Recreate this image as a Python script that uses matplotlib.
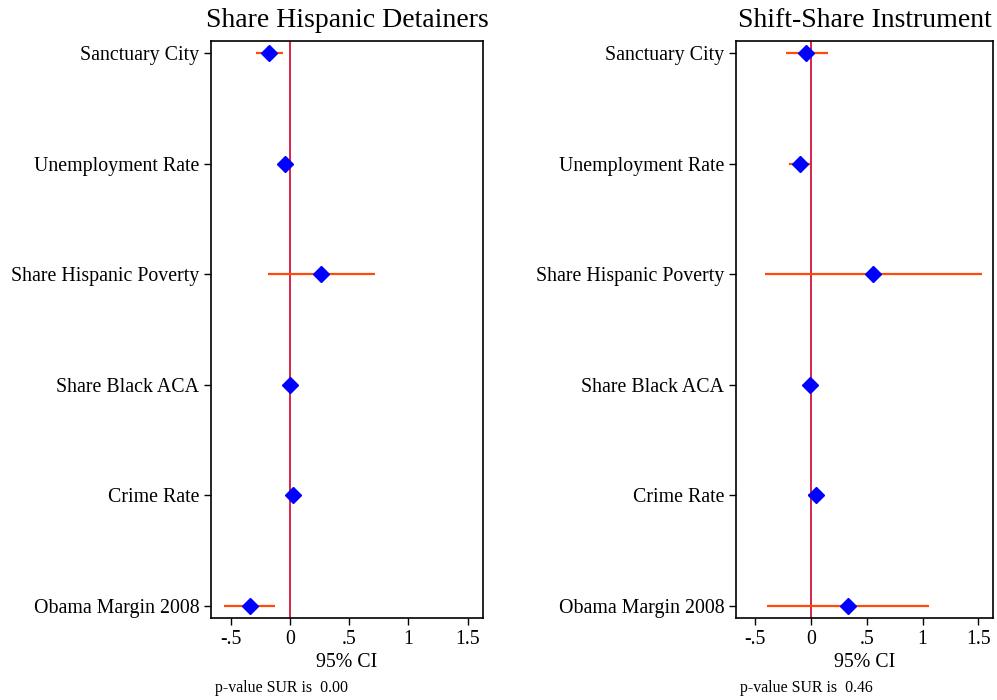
import matplotlib
matplotlib.use('Agg')
import matplotlib.pyplot as plt

plt.rcParams['font.family'] = 'Liberation Serif'

labels = ['Sanctuary City', 'Unemployment Rate', 'Share Hispanic Poverty',
          'Share Black ACA', 'Crime Rate', 'Obama Margin 2008']

# left panel: Share Hispanic Detainers
est1 = [-0.18, -0.04, 0.26, 0.00, 0.025, -0.34]
lo1 = [-0.29, -0.06, -0.19, -0.01, 0.00, -0.56]
hi1 = [-0.06, -0.02, 0.72, 0.01, 0.05, -0.13]

# right panel: Shift-Share Instrument
est2 = [-0.045, -0.10, 0.556, -0.01, 0.045, 0.33]
lo2 = [-0.22, -0.20, -0.41, -0.03, -0.03, -0.395]
hi2 = [0.15, -0.01, 1.53, 0.01, 0.12, 1.06]

titles = ['Share Hispanic Detainers', 'Shift-Share Instrument']
pvals = ['0.00', '0.46']
xticks = [-0.5, 0, 0.5, 1, 1.5]
xticklabels = ['-.5', '0', '.5', '1', '1.5']

fig = plt.figure(figsize=(9.97, 7), dpi=100)
rects = [[0.2116, 0.1171, 0.2728, 0.8243], [0.7382, 0.1171, 0.2578, 0.8243]]

panels = [(est1, lo1, hi1), (est2, lo2, hi2)]
for i, (est, lo, hi) in enumerate(panels):
    ax = fig.add_axes(rects[i])
    y = list(range(1, len(labels) + 1))
    ax.axvline(0, color='#d6113c', lw=1.3, zorder=1)
    ax.hlines(y, lo, hi, color='#ff4a0a', lw=1.6, zorder=2)
    ax.plot(est, y, 'D', color='#0000ff', ms=8, zorder=3)
    ax.set_ylim(6.11, 0.89)
    ax.set_xlim(-0.67, 1.63)
    ax.set_yticks(y)
    ax.set_yticklabels(labels, fontsize=14.3)
    ax.set_xticks(xticks)
    ax.set_xticklabels(xticklabels, fontsize=14.3)
    ax.tick_params(direction='out', length=5, width=1)
    ax.set_xlabel('95% CI', fontsize=14.3, labelpad=3)
    ax.set_title(titles[i], fontsize=20, pad=10)
    for s in ax.spines.values():
        s.set_linewidth(1.2)
    fig.text(rects[i][0] + 0.004, 0.012, 'p-value SUR is  ' + pvals[i], fontsize=11.4)

fig.savefig('out.png', dpi=100)
